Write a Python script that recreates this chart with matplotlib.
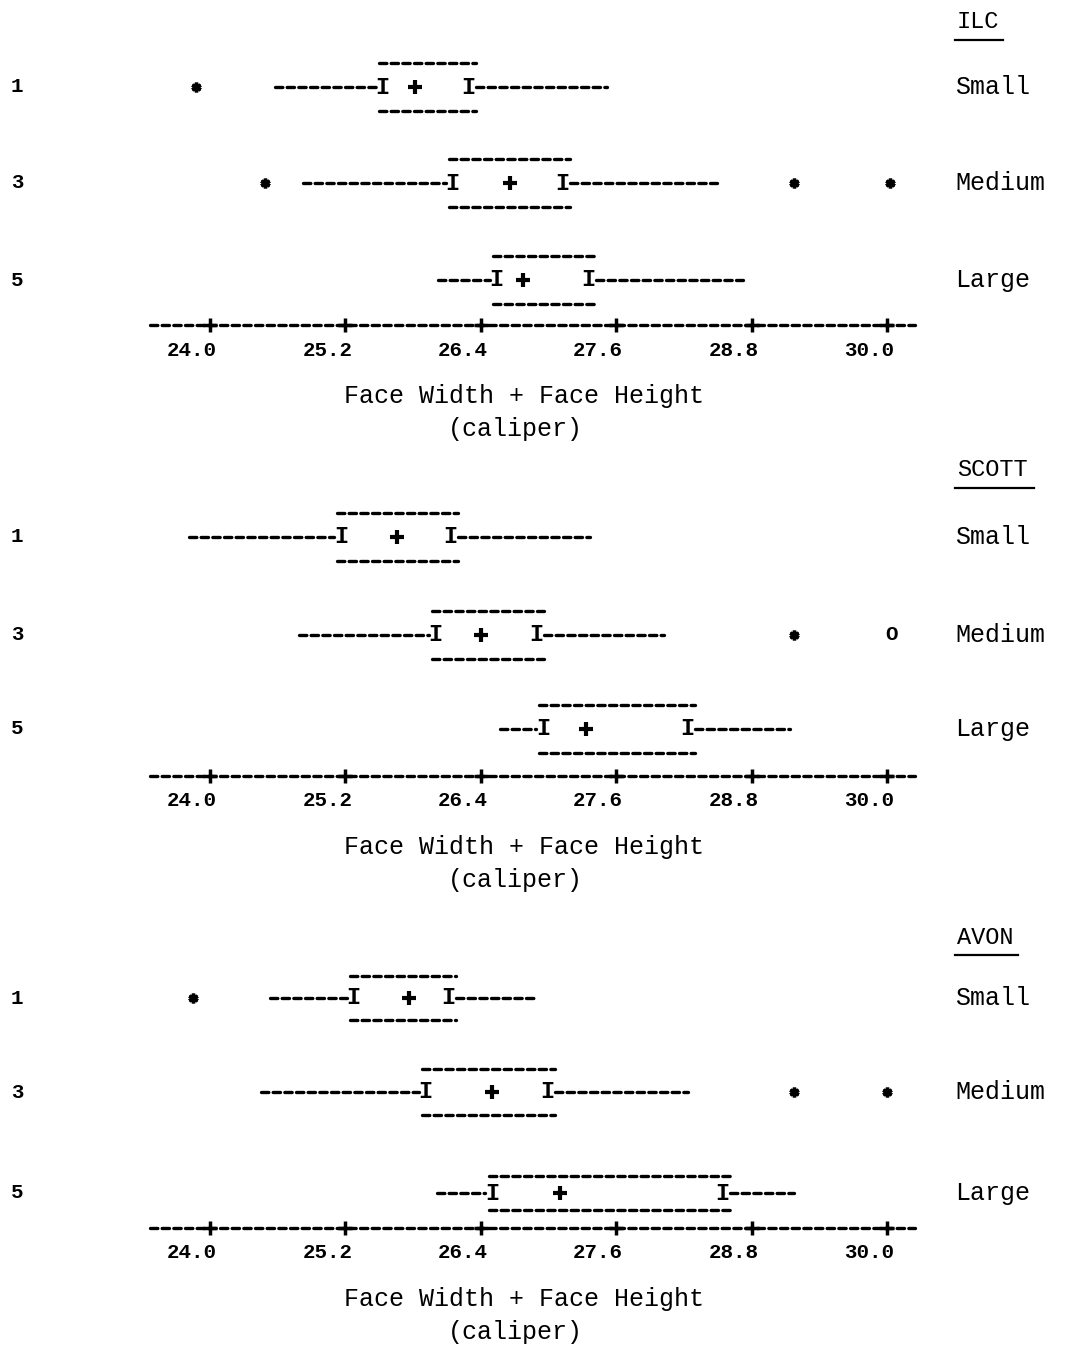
import matplotlib
matplotlib.use('Agg')
import matplotlib.pyplot as plt
from matplotlib import transforms

# --- data ---
panels = ["ILC", "SCOTT", "AVON"]
sizes = ["Small", "Medium", "Large"]
row_codes = ["1", "3", "5"]
ticks = [24.0, 25.2, 26.4, 27.6, 28.8, 30.0]

ilc_lo = [24.58, 24.82, 26.02]
ilc_q1 = [25.53, 26.15, 26.54]
ilc_med = [25.82, 26.66, 26.77]
ilc_q3 = [26.29, 27.12, 27.35]
ilc_hi = [27.52, 28.49, 28.72]
ilc_out = [[23.88], [24.49, 29.18, 30.03], []]
ilc_sym = [["*"], ["*", "*", "*"], []]

scott_lo = [23.81, 24.79, 26.57]
scott_q1 = [25.16, 26.00, 26.95]
scott_med = [25.66, 26.40, 27.33]
scott_q3 = [26.13, 26.89, 28.23]
scott_hi = [27.37, 28.02, 29.14]
scott_out = [[], [29.18, 30.04], []]
scott_sym = [[], ["*", "O"], []]

avon_lo = [24.53, 24.45, 26.01]
avon_q1 = [25.27, 25.91, 26.50]
avon_med = [25.76, 26.50, 27.10]
avon_q3 = [26.11, 26.99, 28.54]
avon_hi = [26.88, 28.24, 29.18]
avon_out = [[23.85], [29.18, 30.00], []]
avon_sym = [["*"], ["*", "*"], []]

# --- layout (pixels) ---
W, H = 1067, 1348
PX0, PXU = 210.0, 112.83          # pixel of 24.0, pixels per unit
XMIN = 24.0 - PX0 / PXU
XMAX = 24.0 + (W - PX0) / PXU
panel_tops = [0, 450, 906]
panel_heights = [450, 456, 442]
title_ys = [22, 20, 31]
rows_local = [[87, 183, 280], [87, 185, 279], [92, 186, 287]]
box_halves = [[24, 24, 24], [24, 24, 24], [22, 23, 17]]
axis_ys = [325, 326, 322]

MONO = 'Liberation Mono'
DASH = dict(linestyles=[(0, (2.2, 1.3))], linewidth=2.4, colors='black')

fig = plt.figure(figsize=(W / 100, H / 100), dpi=100)
fig.patch.set_facecolor('white')


def draw_panel(k, lo, q1, med, q3, hi, out, sym):
    top, h = panel_tops[k], panel_heights[k]
    row_y, axis_y, ty = rows_local[k], axis_ys[k], title_ys[k]
    name = panels[k]
    ax = fig.add_axes([0, 1 - (top + h) / H, 1, h / H])
    ax.set_xlim(XMIN, XMAX)
    ax.set_ylim(h, 0)
    ax.axis('off')
    xf = transforms.blended_transform_factory(fig.transFigure, ax.transData)

    # panel title, underlined
    ax.text(957 / W, ty, name, transform=xf, ha='left', va='center',
            fontsize=17, family=MONO)
    ax.plot([955 / W, (957 + 15.3 * len(name)) / W], [ty + 18, ty + 18],
            transform=xf, color='black', lw=1.6)

    for i, size in enumerate(sizes):
        y = row_y[i]
        bh = box_halves[k][i]
        # whiskers
        ax.hlines(y, lo[i], q1[i] - 0.06, capstyle='round', **DASH)
        ax.hlines(y, q3[i] + 0.07, hi[i], capstyle='round', **DASH)
        # box top / bottom
        ax.hlines([y - bh, y + bh], q1[i] - 0.03, q3[i] + 0.07,
                  capstyle='round', **DASH)
        # hinges
        for xq in (q1[i], q3[i]):
            ax.text(xq, y, 'I', ha='center', va='center', fontsize=17,
                    fontweight='bold', family=MONO)
        # median
        ax.plot(med[i], y, marker='+', ms=10, mew=3, color='black')
        # outliers
        for v, s in zip(out[i], sym[i]):
            if s == '*':
                ax.plot(v, y, marker=(6, 2, 0), ms=7, mew=2.5, color='black')
            else:
                ax.text(v, y, s, ha='center', va='center', fontsize=15,
                        fontweight='bold', family=MONO)
        ax.text(17 / W, y, row_codes[i], transform=xf, ha='center',
                va='center', fontsize=15, fontweight='bold', family=MONO)
        ax.text(955 / W, y, size, transform=xf, ha='left', va='center',
                fontsize=18, family=MONO)

    # character-style scale
    ax.hlines(axis_y, ticks[0] - 0.53, ticks[-1] + 0.25, capstyle='round', **DASH)
    ax.plot(ticks, [axis_y] * len(ticks), ls='none', marker='+', ms=10,
            mew=2.5, color='black')
    for t in ticks:
        ax.text(t - 0.16, axis_y + 25, f"{t:.1f}", ha='center', va='center',
                fontsize=15, fontweight='bold', family=MONO)

    ax.text(524 / W, axis_y + 71, "Face Width + Face Height", transform=xf,
            ha='center', va='center', fontsize=18, family=MONO)
    ax.text(515 / W, axis_y + 104, "(caliper)", transform=xf,
            ha='center', va='center', fontsize=18, family=MONO)


draw_panel(0, ilc_lo, ilc_q1, ilc_med, ilc_q3, ilc_hi, ilc_out, ilc_sym)
draw_panel(1, scott_lo, scott_q1, scott_med, scott_q3, scott_hi, scott_out, scott_sym)
draw_panel(2, avon_lo, avon_q1, avon_med, avon_q3, avon_hi, avon_out, avon_sym)

fig.savefig('out.png', dpi=100)
